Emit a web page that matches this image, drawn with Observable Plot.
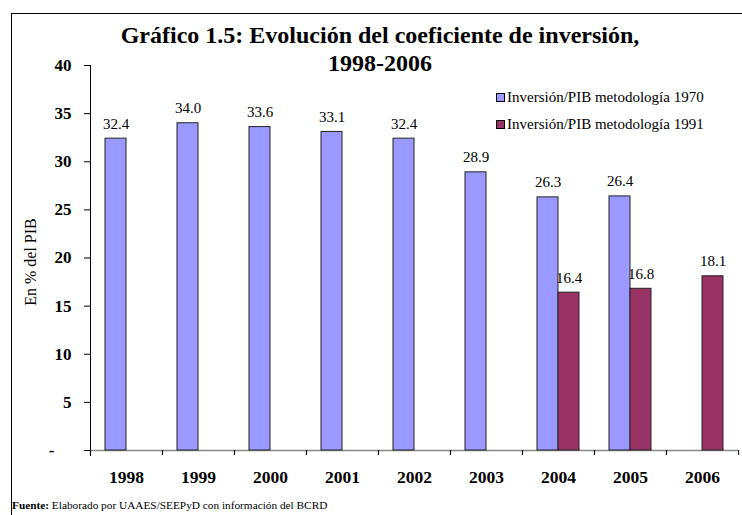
<!DOCTYPE html>
<html>
<head>
<meta charset="utf-8">
<script src="https://cdn.jsdelivr.net/npm/d3@7"></script>
<script src="https://cdn.jsdelivr.net/npm/@observablehq/plot@0.6"></script>
<style>
  body { margin: 0; background: #fff; }
  #wrap { position: relative; width: 742px; height: 515px; overflow: hidden; background: #fff;
          font-family: "Liberation Serif", "Times New Roman", serif; color: #000; }
  #border { position: absolute; left: 11px; top: 13px; width: 740px; height: 510px;
            border-left: 1.5px solid #000; border-top: 1.5px solid #000; }
  #title { position: absolute; left: 10px; top: 21px; width: 740px; text-align: center;
           font-size: 24px; font-weight: bold; line-height: 28px; }
  .leg { position: absolute; left: 496px; font-size: 15px; line-height: 17px; white-space: nowrap; }
  .sw { display: inline-block; box-sizing: border-box; width: 9px; height: 9px; border: 1px solid #000; margin-right: 2px; vertical-align: 0px; }
  #ylab { position: absolute; left: 31px; top: 262px; transform: translate(-50%, -50%) rotate(-90deg);
          font-size: 16px; white-space: nowrap; }
  #foot { position: absolute; left: 12px; top: 499px; font-size: 11.3px; line-height: 13px; white-space: nowrap; }
  #chart { position: absolute; left: 0; top: 0; }
</style>
</head>
<body>
<div id="wrap">
  <div id="border"></div>
  <div id="chart"></div>
  <div id="title"></div>
  <div id="ylab"></div>
  <div id="legend"></div>
  <div id="foot"></div>
</div>
<script>
const titleLines = ["Gráfico 1.5: Evolución del coeficiente de inversión,", "1998-2006"];
const yLabel = "En % del PIB";
const footBold = "Fuente:";
const footText = " Elaborado por UAAES/SEEPyD con información del BCRD";
const years = ["1998", "1999", "2000", "2001", "2002", "2003", "2004", "2005", "2006"];
const seriesNames = ["Inversión/PIB metodología 1970", "Inversión/PIB metodología 1991"];
const inv1970 = [32.4, 34.0, 33.6, 33.1, 32.4, 28.9, 26.3, 26.4, null];
const inv1991 = [null, null, null, null, null, null, 16.4, 16.8, 18.1];
const colors = ["#9999FF", "#993366"];
const yTicks = [0, 5, 10, 15, 20, 25, 30, 35, 40];

const rows = [];
years.forEach((yr, i) => {
  if (inv1970[i] != null) rows.push({year: yr, series: seriesNames[0], value: inv1970[i]});
  if (inv1991[i] != null) rows.push({year: yr, series: seriesNames[1], value: inv1991[i]});
});

const W = 742, H = 515, ML = 89, MR = 3, MT = 65, MB = 65;
const step = (W - ML - MR) / years.length;
const serif = "'Liberation Serif', 'Times New Roman', serif";

const chart = Plot.plot({
  width: W, height: H,
  marginLeft: ML, marginRight: MR, marginTop: MT, marginBottom: MB,
  style: {fontFamily: serif, background: "transparent", color: "#000"},
  fx: {domain: years, padding: 0, label: null},
  x: {domain: seriesNames, paddingInner: 0, paddingOuter: 0.68, axis: null},
  y: {domain: [0, 40], axis: null},
  color: {domain: seriesNames, range: colors},
  marks: [
    Plot.ruleY([0], {stroke: "#888", strokeWidth: 1.5}),
    Plot.barY(rows, {fx: "year", x: "series", y: "value", fill: "series", stroke: "#222", strokeWidth: 1}),
    Plot.text(rows, {fx: "year", x: "series", y: "value", text: d => d.value.toFixed(1),
                     lineAnchor: "bottom", dy: -10, fontSize: 15, fill: "#000"}),
    Plot.frame({anchor: "left", facetAnchor: "left", stroke: "#000", insetBottom: -5}),
    Plot.axisY({ticks: yTicks, tickSize: 6, tickPadding: 13, fontSize: 17, fontWeight: "bold",
                tickFormat: d => d === 0 ? "-\u00a0\u00a0\u00a0\u00a0" : String(d), label: null}),
    Plot.axisFx({anchor: "bottom", tickSize: 0, tickPadding: 20, fontSize: 17.5, fontWeight: "bold", label: null}),
    Plot.axisFx({anchor: "bottom", tickSize: 5, tickFormat: () => "", dx: -step / 2, label: null}),
    Plot.axisFx({anchor: "bottom", tickSize: 5, tickFormat: () => "", dx: step / 2, label: null})
  ]
});
document.getElementById("chart").appendChild(chart);

document.getElementById("title").innerHTML = titleLines.join("<br>");
document.getElementById("ylab").textContent = yLabel;
const foot = document.getElementById("foot");
foot.innerHTML = "<b></b><span></span>";
foot.querySelector("b").textContent = footBold;
foot.querySelector("span").textContent = footText;

const legend = document.getElementById("legend");
seriesNames.forEach((name, i) => {
  const row = document.createElement("div");
  row.className = "leg";
  row.style.top = (89 + i * 27) + "px";
  const sw = document.createElement("span");
  sw.className = "sw";
  sw.style.background = colors[i];
  row.appendChild(sw);
  row.appendChild(document.createTextNode(name));
  legend.appendChild(row);
});
</script>
</body>
</html>
